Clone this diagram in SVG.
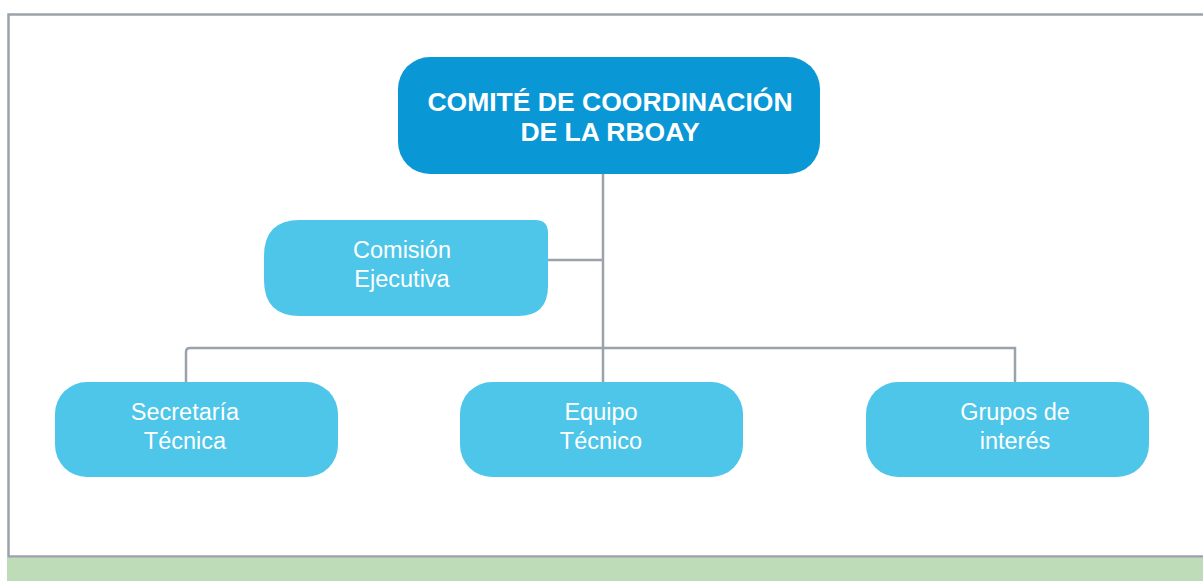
<svg xmlns="http://www.w3.org/2000/svg" width="1203" height="581" viewBox="0 0 1203 581">
<style>
.frame{fill:#ffffff;stroke:#9aa3ab;stroke-width:2.5}
.conn{fill:none;stroke:#9aa3ab;stroke-width:2.5}
.top{fill:#0a97d6}
.sub{fill:#4dc6e9}
.tt{font-family:"Liberation Sans",Arial,sans-serif;font-weight:bold;font-size:26.5px;fill:#ffffff;text-anchor:middle}
.st{font-family:"Liberation Sans",Arial,sans-serif;font-size:23.5px;fill:#ffffff;text-anchor:middle}
</style>
<rect x="0" y="0" width="1203" height="581" fill="#ffffff"/>
<rect x="7" y="558" width="1196" height="23" fill="#bedcb7"/>
<path class="frame" d="M1205,14.5 H8.5 V556.5 H1205"/>
<g id="connectors">
<path class="conn" d="M603,174 V382"/>
<path class="conn" d="M548,260 H603"/>
<path class="conn" d="M186,382 V352 Q186,348 190,348 H1015 V382"/>
</g>
<g id="comite">
<rect class="top" x="398" y="57" width="422" height="117" rx="32"/>
<text class="tt" x="610" y="111">COMITÉ DE COORDINACIÓN</text>
<text class="tt" x="610" y="141">DE LA RBOAY</text>
</g>
<g id="comision">
<path class="sub" d="M300,220 H535 Q548,220 548,233 V286 Q548,316 518,316 H300 Q264,316 264,280 V256 Q264,220 300,220 Z"/>
<text class="st" x="402" y="258">Comisión</text>
<text class="st" x="402" y="287">Ejecutiva</text>
</g>
<g id="secretaria">
<rect class="sub" x="55" y="382" width="283" height="95" rx="32"/>
<text class="st" x="185" y="420">Secretaría</text>
<text class="st" x="185" y="449">Técnica</text>
</g>
<g id="equipo">
<rect class="sub" x="460" y="382" width="283" height="95" rx="32"/>
<text class="st" x="601" y="420">Equipo</text>
<text class="st" x="601" y="449">Técnico</text>
</g>
<g id="grupos">
<rect class="sub" x="866" y="382" width="283" height="95" rx="32"/>
<text class="st" x="1015" y="420">Grupos de</text>
<text class="st" x="1015" y="449">interés</text>
</g>
</svg>
